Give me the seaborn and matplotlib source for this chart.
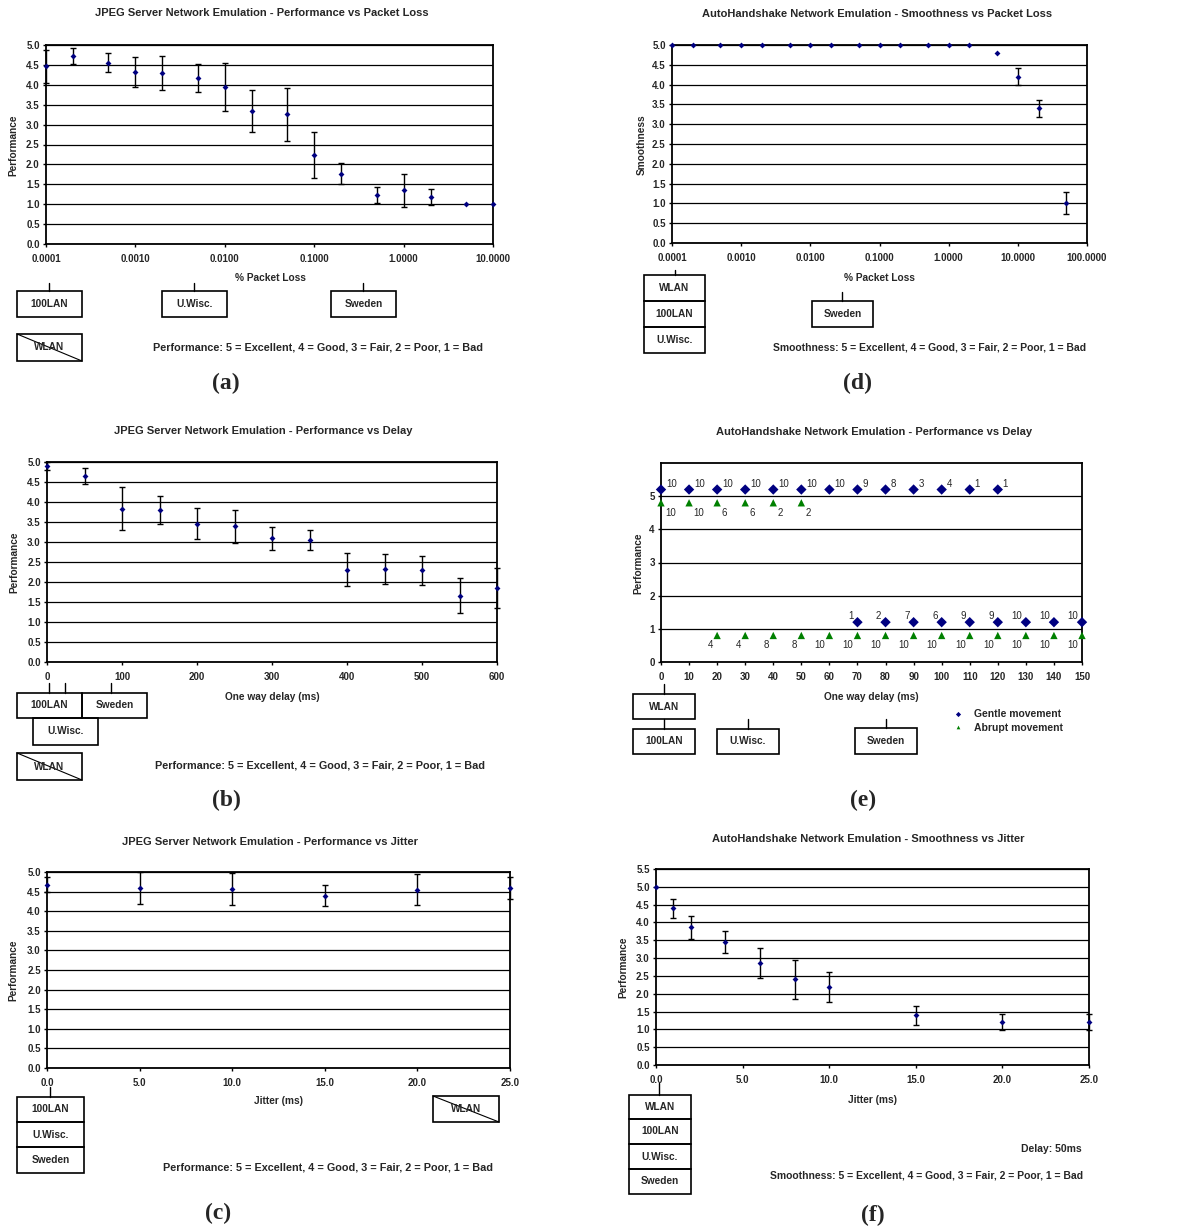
import numpy as np
import pandas as pd
import seaborn as sns
import matplotlib.pyplot as plt
from matplotlib.ticker import FixedLocator, FormatStrFormatter, NullLocator
from matplotlib.patches import Rectangle
from matplotlib.lines import Line2D

W, H = 1182, 1230

# (a) JPEG server - performance vs packet loss
a_loss = [0.0001, 0.0002, 0.0005, 0.001, 0.002, 0.005, 0.01, 0.02, 0.05, 0.1, 0.2, 0.5, 1, 2, 5, 10]
a_perf = [4.46, 4.72, 4.56, 4.32, 4.30, 4.17, 3.95, 3.34, 3.26, 2.24, 1.77, 1.23, 1.35, 1.18, 1.0, 1.0]
a_err = [0.42, 0.20, 0.24, 0.37, 0.42, 0.35, 0.60, 0.53, 0.67, 0.57, 0.26, 0.20, 0.41, 0.20, 0, 0]
a_xticks = [0.0001, 0.001, 0.01, 0.1, 1, 10]

# (d) AutoHandshake - smoothness vs packet loss
d_loss = [0.0001, 0.0002, 0.0005, 0.001, 0.002, 0.005, 0.01, 0.02, 0.05, 0.1, 0.2, 0.5, 1, 2, 5, 10, 20, 50]
d_smooth = [5.0, 5.0, 5.0, 5.0, 5.0, 5.0, 5.0, 5.0, 5.0, 5.0, 5.0, 5.0, 5.0, 5.0, 4.8, 4.2, 3.4, 1.0]
d_err = [0, 0, 0, 0, 0, 0, 0, 0, 0, 0, 0, 0, 0, 0, 0, 0.22, 0.22, 0.28]
d_xticks = [0.0001, 0.001, 0.01, 0.1, 1, 10, 100]

# (b) JPEG server - performance vs delay
b_delay = [0, 50, 100, 150, 200, 250, 300, 350, 400, 450, 500, 550, 600]
b_perf = [4.89, 4.64, 3.83, 3.80, 3.46, 3.39, 3.09, 3.05, 2.31, 2.33, 2.29, 1.66, 1.84]
b_err = [0.10, 0.20, 0.54, 0.35, 0.38, 0.41, 0.29, 0.26, 0.41, 0.38, 0.37, 0.43, 0.50]

# (e) AutoHandshake - performance vs delay (number of users per rating)
e_gentle_hi_x = [0, 10, 20, 30, 40, 50, 60, 70, 80, 90, 100, 110, 120]
e_gentle_hi_n = [10, 10, 10, 10, 10, 10, 10, 9, 8, 3, 4, 1, 1]
e_gentle_lo_x = [70, 80, 90, 100, 110, 120, 130, 140, 150]
e_gentle_lo_n = [1, 2, 7, 6, 9, 9, 10, 10, 10]
e_abrupt_hi_x = [0, 10, 20, 30, 40, 50]
e_abrupt_hi_n = [10, 10, 6, 6, 2, 2]
e_abrupt_lo_x = [20, 30, 40, 50, 60, 70, 80, 90, 100, 110, 120, 130, 140, 150]
e_abrupt_lo_n = [4, 4, 8, 8, 10, 10, 10, 10, 10, 10, 10, 10, 10, 10]
e_levels = {'gentle_hi': 5.2, 'gentle_lo': 1.2, 'abrupt_hi': 4.8, 'abrupt_lo': 0.8}

# (c) JPEG server - performance vs jitter
c_jitter = [0, 5, 10, 15, 20, 25]
c_perf = [4.68, 4.59, 4.57, 4.40, 4.55, 4.59]
c_err = [0.20, 0.40, 0.40, 0.28, 0.39, 0.29]

# (f) AutoHandshake - smoothness vs jitter
f_jitter = [0, 1, 2, 4, 6, 8, 10, 15, 20, 25]
f_perf = [5.0, 4.40, 3.86, 3.45, 2.87, 2.41, 2.19, 1.39, 1.20, 1.20]
f_err = [0, 0.27, 0.33, 0.30, 0.42, 0.55, 0.41, 0.27, 0.22, 0.22]

NAVY = '#000080'
GREEN = '#008000'
RATING = '5 = Excellent, 4 = Good, 3 = Fair, 2 = Poor, 1 = Bad'
TITLE_FS = 8
CAP_FS = 7.8
SM_FS = 7.5
TICK_FS = 7

sns.set_theme(style="ticks")
plt.rcParams['font.family'] = ['Liberation Sans', 'DejaVu Sans']
plt.rcParams['font.weight'] = 'bold'
plt.rcParams['axes.labelweight'] = 'bold'

fig = plt.figure(figsize=(W / 100, H / 100), dpi=100)


def fx(x):
    return x / W


def fy(y):
    return 1 - y / H


def px_axes(l, t, r, b):
    return fig.add_axes([fx(l), fy(b), (r - l) / W, (b - t) / H])


def ftext(x, y, s, **kw):
    kw.setdefault('ha', 'center')
    kw.setdefault('va', 'center')
    fig.text(fx(x), fy(y), s, **kw)


def box(l, t, r, b, label, crossed=False):
    fig.add_artist(Rectangle((fx(l), fy(b)), (r - l) / W, (b - t) / H,
                             transform=fig.transFigure, fill=False, ec='black', lw=1.2))
    ftext((l + r) / 2, (t + b) / 2, label, fontsize=7.3)
    if crossed:
        fig.add_artist(Line2D([fx(l), fx(r)], [fy(t), fy(b)],
                              transform=fig.transFigure, color='black', lw=0.8))


def leader(x, t, b):
    fig.add_artist(Line2D([fx(x), fx(x)], [fy(t), fy(b)],
                          transform=fig.transFigure, color='black', lw=1))


def style(ax, box_px, ylim, yticks, yfmt, xlabel, xlab_px, ylabel, ylab_px):
    l, t, r, b = box_px
    ax.set_ylim(*ylim)
    ax.yaxis.set_major_locator(FixedLocator(yticks))
    ax.yaxis.set_major_formatter(FormatStrFormatter(yfmt))
    ax.grid(axis='y', color='black', lw=0.9)
    ax.grid(axis='x', visible=False)
    ax.set_axisbelow(True)
    for s in ax.spines.values():
        s.set_visible(True)
        s.set_color('black')
        s.set_linewidth(1.3)
    ax.tick_params(axis='both', which='major', direction='out', length=2.5, width=1,
                   color='black', labelsize=TICK_FS, pad=2)
    ax.tick_params(axis='x', pad=5)
    ax.set_xlabel(xlabel, fontsize=7.3, va='center')
    ax.set_ylabel(ylabel, fontsize=7.3, va='center')
    ax.xaxis.set_label_coords((xlab_px[0] - l) / (r - l), (b - xlab_px[1]) / (b - t))
    ax.yaxis.set_label_coords((ylab_px[0] - l) / (r - l), (b - ylab_px[1]) / (b - t))


def points(ax, x, y, err):
    x = np.asarray(x, float)
    y = np.asarray(y, float)
    err = np.asarray(err, float)
    m = err > 0
    ax.errorbar(x[m], y[m], yerr=err[m], fmt='none', ecolor='black', elinewidth=1,
                capsize=2, capthick=1, clip_on=False, zorder=2)
    sns.scatterplot(x=x, y=y, ax=ax, marker='D', s=9, color=NAVY, edgecolor=NAVY,
                    linewidth=0, zorder=3, clip_on=False)


# ---------- (a) ----------
pa = (46, 45, 493, 244)
ax = px_axes(*pa)
points(ax, a_loss, a_perf, a_err)
ax.set_xscale('log')
ax.set_xlim(1e-4, 10)
ax.xaxis.set_major_locator(FixedLocator(a_xticks))
ax.xaxis.set_minor_locator(NullLocator())
ax.xaxis.set_major_formatter(FormatStrFormatter('%.4f'))
style(ax, pa, (0, 5), np.arange(0, 5.01, 0.5), '%.1f', '% Packet Loss', (270, 278), 'Performance', (13, 145))
ftext(262, 13, 'JPEG Server Network Emulation - Performance vs Packet Loss', fontsize=TITLE_FS)
leader(49, 283, 291)
leader(194, 283, 291)
leader(363, 283, 291)
box(17, 291, 82, 317, '100LAN')
box(162, 291, 227, 317, 'U.Wisc.')
box(331, 291, 396, 317, 'Sweden')
box(17, 334, 82, 361, 'WLAN', crossed=True)
ftext(318, 347, 'Performance: ' + RATING, fontsize=CAP_FS)
ftext(226, 383, '(a)', fontsize=17, family='Liberation Serif')

# ---------- (d) ----------
pd_ = (672, 45, 1087, 243)
ax = px_axes(*pd_)
points(ax, d_loss, d_smooth, d_err)
ax.set_xscale('log')
ax.set_xlim(1e-4, 100)
ax.xaxis.set_major_locator(FixedLocator(d_xticks))
ax.xaxis.set_minor_locator(NullLocator())
ax.xaxis.set_major_formatter(FormatStrFormatter('%.4f'))
style(ax, pd_, (0, 5), np.arange(0, 5.01, 0.5), '%.1f', '% Packet Loss', (879, 278), 'Smoothness', (642, 145))
ftext(877, 14, 'AutoHandshake Network Emulation - Smoothness vs Packet Loss', fontsize=TITLE_FS)
leader(675, 270, 275)
box(644, 275, 705, 301, 'WLAN')
box(644, 301, 705, 327, '100LAN')
box(644, 327, 705, 353, 'U.Wisc.')
leader(842, 292, 301)
box(812, 301, 873, 327, 'Sweden')
ftext(930, 348, 'Smoothness: ' + RATING, fontsize=SM_FS)
ftext(858, 383, '(d)', fontsize=17, family='Liberation Serif')

# ---------- (b) ----------
pb = (47, 462, 497, 662)
ax = px_axes(*pb)
points(ax, b_delay, b_perf, b_err)
ax.set_xlim(0, 600)
ax.xaxis.set_major_locator(FixedLocator(b_delay[::2]))
ax.xaxis.set_major_formatter(FormatStrFormatter('%d'))
style(ax, pb, (0, 5), np.arange(0, 5.01, 0.5), '%.1f', 'One way delay (ms)', (272, 697), 'Performance', (14, 562))
ftext(263, 431, 'JPEG Server Network Emulation - Performance vs Delay', fontsize=TITLE_FS)
leader(49, 683, 693)
leader(65, 683, 693)
leader(111, 683, 693)
box(17, 693, 82, 718, '100LAN')
box(82, 693, 147, 718, 'Sweden')
box(33, 718, 98, 745, 'U.Wisc.')
box(17, 753, 82, 780, 'WLAN', crossed=True)
ftext(320, 766, 'Performance: ' + RATING, fontsize=CAP_FS)
ftext(226, 800, '(b)', fontsize=17, family='Liberation Serif')

# ---------- (e) ----------
pe = (661, 463, 1082, 662)
ax = px_axes(*pe)
rows = []
for key, xs, ns, mv in [('gentle_hi', e_gentle_hi_x, e_gentle_hi_n, 'Gentle movement'),
                        ('gentle_lo', e_gentle_lo_x, e_gentle_lo_n, 'Gentle movement'),
                        ('abrupt_hi', e_abrupt_hi_x, e_abrupt_hi_n, 'Abrupt movement'),
                        ('abrupt_lo', e_abrupt_lo_x, e_abrupt_lo_n, 'Abrupt movement')]:
    for x, n in zip(xs, ns):
        rows.append({'delay': x, 'perf': e_levels[key], 'n': n, 'group': key, 'movement': mv})
df_e = pd.DataFrame(rows)
sns.scatterplot(data=df_e, x='delay', y='perf', hue='movement', style='movement', ax=ax,
                hue_order=['Gentle movement', 'Abrupt movement'],
                palette={'Gentle movement': NAVY, 'Abrupt movement': GREEN},
                markers={'Gentle movement': 'D', 'Abrupt movement': '^'},
                s=28, linewidth=0, zorder=3, clip_on=False)
offsets = {'gentle_hi': ((3.5, 4.3), 'left'), 'abrupt_hi': ((3, -7), 'left'),
           'gentle_lo': ((-3, 4.3), 'right'), 'abrupt_lo': ((-3, -7), 'right')}
for _, r in df_e.iterrows():
    off, ha = offsets[r['group']]
    ax.annotate(str(r['n']), (r['delay'], r['perf']), xytext=off, textcoords='offset points',
                ha=ha, va='center', fontsize=7, fontweight='normal')
ax.set_xlim(0, 150)
ax.xaxis.set_major_locator(FixedLocator(np.arange(0, 151, 10)))
ax.xaxis.set_major_formatter(FormatStrFormatter('%d'))
style(ax, pe, (0, 6), [0, 1, 2, 3, 4, 5], '%d', 'One way delay (ms)', (871, 697), 'Performance', (638, 563))
handles, labels = ax.get_legend_handles_labels()
ax.legend_.remove()
fig.legend(handles, labels, loc='center left', bbox_to_anchor=(fx(938), fy(721)), frameon=False,
           markerscale=0.5, handletextpad=0.6, labelspacing=0.35, fontsize=7.5)
ftext(874, 432, 'AutoHandshake Network Emulation - Performance vs Delay', fontsize=TITLE_FS)
leader(664, 684, 694)
leader(664, 719, 729)
box(633, 694, 695, 719, 'WLAN')
box(633, 729, 695, 754, '100LAN')
leader(748, 719, 729)
box(717, 729, 779, 754, 'U.Wisc.')
leader(886, 719, 728)
box(855, 728, 917, 754, 'Sweden')
ftext(863, 800, '(e)', fontsize=17, family='Liberation Serif')

# ---------- (c) ----------
pc = (47, 872, 510, 1068)
ax = px_axes(*pc)
points(ax, c_jitter, c_perf, c_err)
ax.set_xlim(0, 25)
ax.xaxis.set_major_locator(FixedLocator(c_jitter))
ax.xaxis.set_major_formatter(FormatStrFormatter('%.1f'))
style(ax, pc, (0, 5), np.arange(0, 5.01, 0.5), '%.1f', 'Jitter (ms)', (278, 1101), 'Performance', (13, 970))
ftext(270, 842, 'JPEG Server Network Emulation - Performance vs Jitter', fontsize=TITLE_FS)
leader(50, 1087, 1097)
box(17, 1097, 84, 1122, '100LAN')
box(17, 1122, 84, 1147, 'U.Wisc.')
box(17, 1147, 84, 1173, 'Sweden')
box(433, 1096, 499, 1122, 'WLAN', crossed=True)
ftext(328, 1168, 'Performance: ' + RATING, fontsize=CAP_FS)
ftext(218, 1213, '(c)', fontsize=17, family='Liberation Serif')

# ---------- (f) ----------
pf = (656, 869, 1089, 1065)
ax = px_axes(*pf)
points(ax, f_jitter, f_perf, f_err)
ax.set_xlim(0, 25)
ax.xaxis.set_major_locator(FixedLocator([0, 5, 10, 15, 20, 25]))
ax.xaxis.set_major_formatter(FormatStrFormatter('%.1f'))
style(ax, pf, (0, 5.5), np.arange(0, 5.51, 0.5), '%.1f', 'Jitter (ms)', (872, 1100), 'Performance', (623, 967))
ftext(868, 839, 'AutoHandshake Network Emulation - Smoothness vs Jitter', fontsize=TITLE_FS)
leader(659, 1083, 1095)
box(629, 1095, 691, 1119, 'WLAN')
box(629, 1119, 691, 1144, '100LAN')
box(629, 1144, 691, 1169, 'U.Wisc.')
box(629, 1169, 691, 1194, 'Sweden')
ftext(1082, 1149, 'Delay: 50ms', fontsize=SM_FS, ha='right')
ftext(1083, 1175, 'Smoothness: ' + RATING, fontsize=SM_FS, ha='right')
ftext(873, 1215, '(f)', fontsize=17, family='Liberation Serif')

fig.savefig('out.png', dpi=100, facecolor='white')
